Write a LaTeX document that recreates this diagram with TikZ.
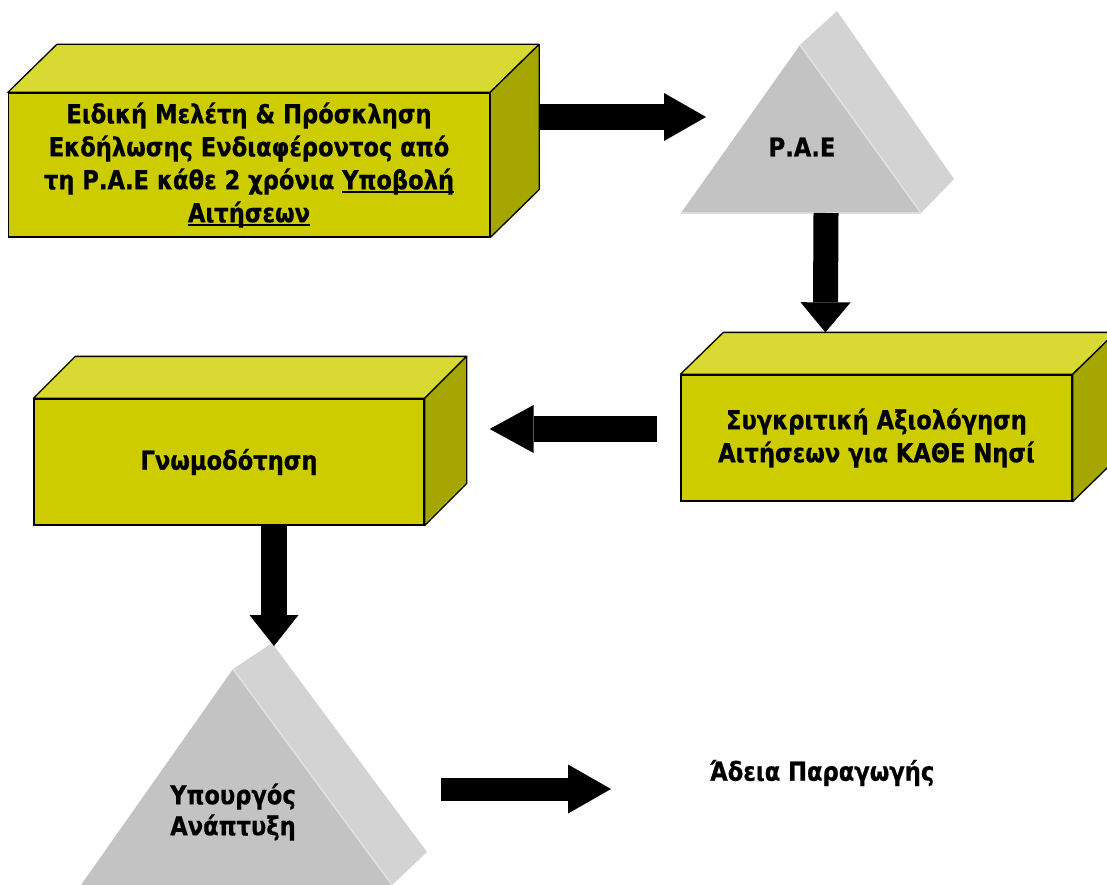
\documentclass[tikz,border=0pt]{standalone}
\usepackage{fontspec}
\setmainfont{DejaVu Sans}[FakeStretch=0.87,FakeBold=0.6]
\usetikzlibrary{arrows.meta,calc}
\definecolor{boxfront}{HTML}{CCCC00}
\definecolor{boxtop}{HTML}{D9D933}
\definecolor{boxside}{HTML}{A6A600}
\definecolor{trifront}{HTML}{C3C3C3}
\definecolor{triside}{HTML}{D3D3D3}
\definecolor{triedge}{HTML}{E2E2E2}
\newcommand\cubefaces[3]{%
  \filldraw[face, fill=boxtop] (#1.north west) -- ++(#2,#3) -- ($(#1.north east)+(#2,#3)$) -- (#1.north east) -- cycle;
  \filldraw[face, fill=boxside] (#1.north east) -- ++(#2,#3) -- ($(#1.south east)+(#2,#3)$) -- (#1.south east) -- cycle;}
\newcommand\ulbox[1]{\setbox0\hbox{#1}\rlap{\raisebox{-3.5pt}{\rule{\wd0}{1.8pt}}}\box0}
\begin{document}
\begin{tikzpicture}[x=1pt,y=-1pt,
  front/.style={draw=black, line width=1.3pt, fill=boxfront, align=center,
    font=\fontsize{26}{33}\selectfont\bfseries, inner sep=0pt},
  face/.style={draw=black, line width=1.3pt, line join=round},
  lbl/.style={font=\fontsize{26}{31}\selectfont\bfseries, align=center, inner sep=0pt},
  blockarrow/.style n args={3}{draw=black, line width=#1,
    -{Triangle[length=#2, width=#3, line width=0pt]}}
]
\useasboundingbox (0,0) rectangle (1107,885);

% --- box 1
\node[front, minimum width=481pt, minimum height=144pt] (b1) at (249,165)
  {Ειδική Μελέτη \& Πρόσκληση\\ Εκδήλωσης Ενδιαφέροντος από\\ τη Ρ.Α.Ε κάθε 2 χρόνια \ulbox{Υποβολή}\\ \ulbox{Αιτήσεων}};
\cubefaces{b1}{49}{-48}

% --- triangle 1
\fill[triside] (800,45) -- (837,11) -- (954,179) -- (921,213) -- cycle;
\fill[trifront] (681,213) -- (800,45) -- (921,213) -- cycle;
\draw[triedge, line width=1.5pt] (800,45) -- (921,213);
\draw[triedge!80!trifront, line width=1.2pt] (681,213) -- (921,213);
\node[lbl] (pae) at (802,147) {Ρ.Α.Ε};
\coordinate (t1w) at (706,117);
\coordinate (t1s) at (826,213);

% --- box 3
\node[front, minimum width=391pt, minimum height=126pt] (b3) at (876.5,438)
  {Συγκριτική Αξιολόγηση\\ Αιτήσεων για ΚΑΘΕ Νησί};
\cubefaces{b3}{43}{-42}

% --- box 2
\node[front, minimum width=390pt, minimum height=126pt] (b2) at (229,462)
  {Γνωμοδότηση};
\cubefaces{b2}{42}{-42}

% --- triangle 2
\fill[triside] (233,669) -- (272,643) -- (427,852) -- (392,885) -- cycle;
\fill[trifront] (81,885) -- (233,669) -- (392,885) -- cycle;
\draw[triedge, line width=1.5pt] (233,669) -- (392,885);
\node[lbl] (ypo) at (233,812) {Υπουργός\\ Ανάπτυξη};
\coordinate (t2n) at (274,646);
\coordinate (t2e) at (441,789);

% --- final text
\node[lbl] (adeia) at (822,773) {Άδεια Παραγωγής};
\coordinate (a5end) at (611,789);

% --- block arrows
\draw[blockarrow={26pt}{42pt}{48pt}] ($(b1.east)+(49,-48)$) -- (t1w);
\draw[blockarrow={25pt}{30pt}{50pt}] (t1s) -- ($(b3.north west)+(145,-42)$);
\draw[blockarrow={26pt}{44pt}{48pt}] ($(b3.west)+(-23,-9)$) -- ($(b2.east)+(65,-33)$);
\draw[blockarrow={26pt}{31pt}{49pt}] (b2.south -| t2n) -- (t2n);
\draw[blockarrow={23pt}{43pt}{49pt}] (t2e) -- (a5end);
\end{tikzpicture}
\end{document}
